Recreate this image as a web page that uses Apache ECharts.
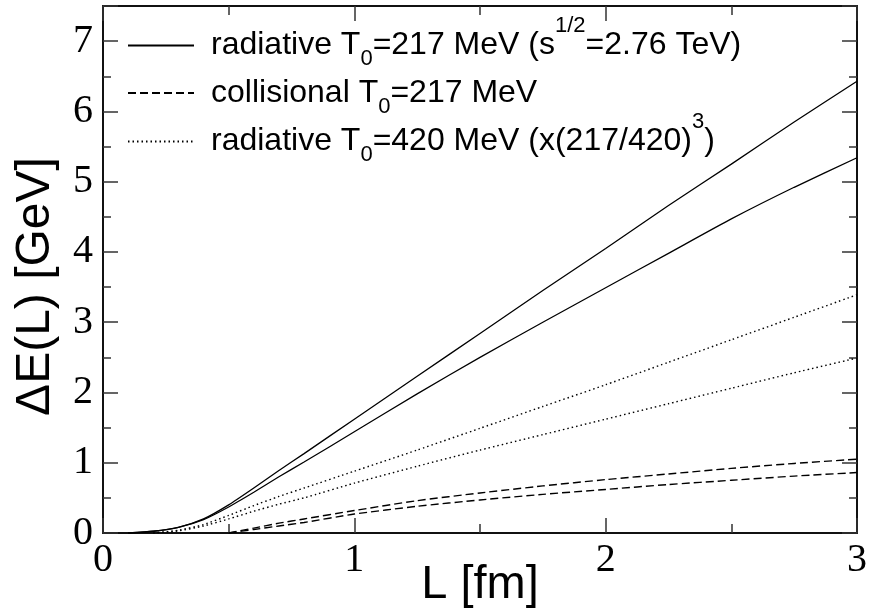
<!DOCTYPE html>
<html>
<head>
<meta charset="utf-8">
<script src="https://cdn.jsdelivr.net/npm/echarts@6/dist/echarts.min.js"></script>
<style>
  html, body { margin: 0; padding: 0; background: #fff; }
  #chart { width: 874px; height: 614px; }
</style>
</head>
<body>
<div id="chart"></div>
<script>
// path length L [fm]
const L = [0, 0.1, 0.2, 0.3, 0.4, 0.5, 0.6, 0.7, 0.8, 1.0, 1.25, 1.5, 1.75, 2.0, 2.25, 2.5, 2.75, 3.0];

// radiative, T0 = 217 MeV (two curves)
const radHigh = [null, 0, 0.025, 0.08, 0.2, 0.4, 0.64, 0.89, 1.13, 1.62, 2.23, 2.84, 3.45, 4.05, 4.66, 5.25, 5.85, 6.43];
const radLow = [null, 0, 0.025, 0.08, 0.19, 0.37, 0.58, 0.8, 1.01, 1.44, 1.98, 2.5, 3.0, 3.49, 3.98, 4.47, 4.92, 5.34];

// collisional, T0 = 217 MeV
const colHigh = [null, null, null, null, null, 0, 0.07, 0.14, 0.2, 0.32, 0.46, 0.57, 0.67, 0.76, 0.84, 0.92, 0.99, 1.05];
const colLow = [null, null, null, null, null, 0, 0.05, 0.1, 0.15, 0.27, 0.38, 0.47, 0.55, 0.62, 0.69, 0.75, 0.81, 0.86];

// radiative, T0 = 420 MeV, scaled by (217/420)^3
const rad420High = [null, null, 0, 0.04, 0.12, 0.25, 0.39, 0.52, 0.64, 0.88, 1.18, 1.49, 1.8, 2.11, 2.43, 2.75, 3.07, 3.39];
const rad420Low = [null, null, 0, 0.03, 0.1, 0.2, 0.31, 0.41, 0.5, 0.71, 0.95, 1.18, 1.4, 1.62, 1.84, 2.06, 2.28, 2.49];

const names = ["rad217", "col217", "rad420"];
const labels = {
    rad217: "{a|radiative T}{sub|0}{a|=217 MeV (s}{sup|1/2}{a|=2.76 TeV)}",
    col217: "{a|collisional T}{sub|0}{a|=217 MeV}",
    rad420: "{a|radiative T}{sub|0}{a|=420 MeV (x(217/420)}{sup|3}{a|)}",
};
const legendTops = [15, 77, 111];

function pairs(ys) {
    return L.map((x, i) => [x, ys[i]]);
}

function curve(name, ys, type) {
    return {
        name: name,
        type: "line",
        data: pairs(ys),
        showSymbol: false,
        symbol: "none",
        smooth: 0.2,
        connectNulls: false,
        lineStyle: { color: "#000", width: type === "solid" ? 1.3 : 1.4, type: type },
        itemStyle: { color: "#000" },
        z: 3,
    };
}

// one legend box per entry, so each row sits where the reference has it
function legendRow(name, top) {
    return {
        data: [name],
        orient: "vertical",
        left: 127,
        top: top,
        padding: 0,
        itemWidth: 66,
        itemHeight: 14,
        itemStyle: { color: "transparent", opacity: 0, borderWidth: 0 },
        formatter: (n) => labels[n],
        textStyle: {
            padding: [0, 0, 0, 12],
            rich: {
                a: { fontFamily: "Liberation Sans", fontSize: 32, color: "#000", lineHeight: 61 },
                sub: { fontFamily: "Liberation Sans", fontSize: 22, color: "#000", lineHeight: 20, verticalAlign: "bottom", padding: [0, 0, 6, 0] },
                sup: { fontFamily: "Liberation Sans", fontSize: 22, color: "#000", lineHeight: 20, verticalAlign: "top" },
            },
        },
    };
}

const chart = echarts.init(document.getElementById("chart"));

const axisLine = { show: true, onZero: false, lineStyle: { color: "#111", width: 2 } };
const tickStyle = { color: "#333", width: 1.5 };

const options = {
    animation: false,
    grid: { left: 103, right: 17, top: 6, bottom: 81, outerBoundsMode: "none", containLabel: false },
    legend: names.map((n, i) => legendRow(n, legendTops[i])),
    xAxis: [
        {
            type: "value",
            min: 0,
            max: 3,
            interval: 1,
            name: "L [fm]",
            nameLocation: "middle",
            nameGap: 29,
            nameMoveOverlap: false,
            nameTextStyle: { fontFamily: "Liberation Sans", fontSize: 47, color: "#000" },
            axisLine: axisLine,
            axisTick: { inside: true, length: 15, lineStyle: tickStyle },
            minorTick: { show: true, splitNumber: 2, length: 9, lineStyle: tickStyle },
            axisLabel: { fontFamily: "Liberation Serif", fontSize: 40, color: "#000", margin: 7 },
            splitLine: { show: false },
        },
        {
            type: "value",
            position: "top",
            min: 0,
            max: 3,
            interval: 1,
            axisLine: axisLine,
            axisTick: { inside: true, length: 15, lineStyle: tickStyle },
            minorTick: { show: true, splitNumber: 2, length: 9, lineStyle: tickStyle },
            axisLabel: { show: false },
            splitLine: { show: false },
        },
    ],
    yAxis: [
        {
            type: "value",
            min: 0,
            max: 7.5,
            interval: 1,
            name: "ΔE(L) [GeV]",
            nameLocation: "middle",
            nameGap: 43,
            nameMoveOverlap: false,
            nameTextStyle: { fontFamily: "Liberation Sans", fontSize: 48, color: "#000", padding: [0, 34, 0, 0] },
            axisLine: axisLine,
            axisTick: { inside: true, length: 15, lineStyle: tickStyle },
            minorTick: { show: true, splitNumber: 2, length: 8, lineStyle: tickStyle },
            axisLabel: {
                fontFamily: "Liberation Serif",
                fontSize: 40,
                color: "#000",
                margin: 10,
                showMaxLabel: false,
                formatter: (v) => (Number.isInteger(v) ? String(v) : ""),
            },
            splitLine: { show: false },
        },
        {
            type: "value",
            position: "right",
            min: 0,
            max: 7.5,
            interval: 1,
            axisLine: axisLine,
            axisTick: { inside: true, length: 15, lineStyle: tickStyle },
            minorTick: { show: true, splitNumber: 2, length: 8, lineStyle: tickStyle },
            axisLabel: { show: false },
            splitLine: { show: false },
        },
    ],
    series: [
        curve("rad217", radHigh, "solid"),
        curve("rad217", radLow, "solid"),
        curve("col217", colHigh, [8, 4]),
        curve("col217", colLow, [8, 4]),
        curve("rad420", rad420High, [1.5, 3]),
        curve("rad420", rad420Low, [1.5, 3]),
    ],
};

chart.setOption(options);
window.addEventListener("resize", () => {
    chart.resize();
});
</script>
</body>
</html>
